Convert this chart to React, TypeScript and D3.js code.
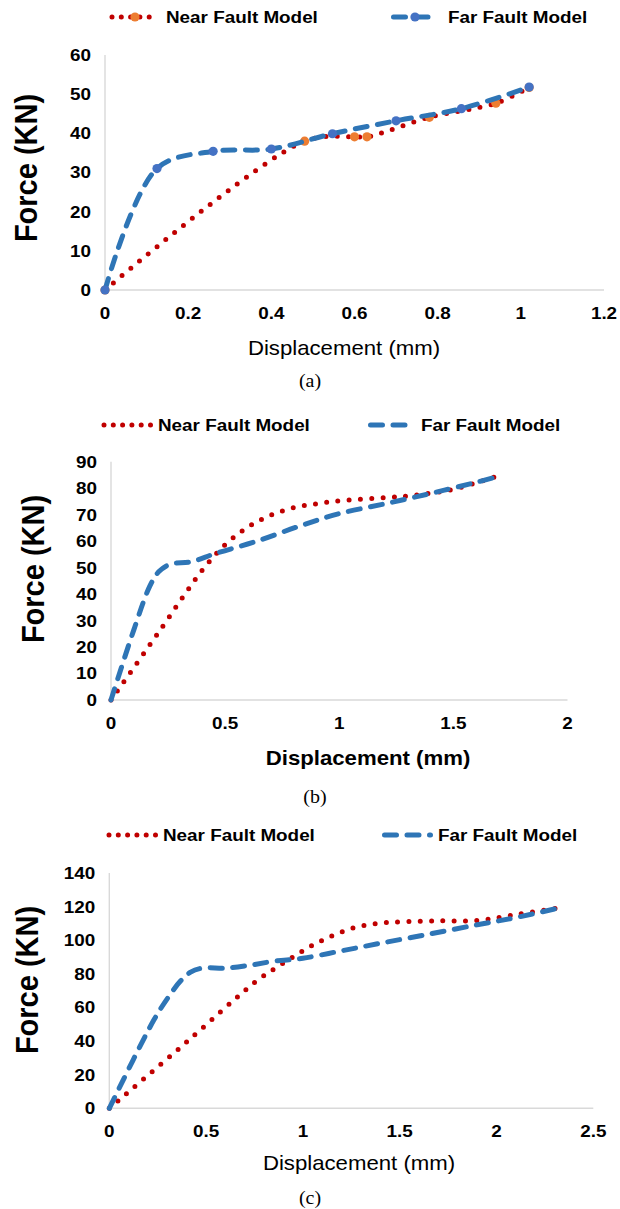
import React from "react";
import * as d3 from "d3";

type Pt = [number, number];

// Load–displacement curves (displacement in mm, force in kN)
const seriesNames = ["Near Fault Model", "Far Fault Model"];

const nearA: Pt[] = [
  [0, 0], [0.48, 38], [0.6, 39.1], [0.63, 39.1], [0.78, 44.1], [0.94, 47.7], [1.02, 51.7],
];
const farA: Pt[] = [
  [0, 0], [0.125, 31], [0.26, 35.4], [0.4, 36], [0.547, 39.9], [0.7, 43.2], [0.857, 46.3], [1.02, 51.8],
];

const nearB: Pt[] = [
  [0, 0], [0.2, 24.5], [0.4, 49], [0.5, 58.6], [0.6, 65.3], [0.7, 69.8], [0.8, 72.6], [0.9, 74.1],
  [1.0, 75.2], [1.2, 76.4], [1.3, 77], [1.4, 78.1], [1.5, 79.6], [1.6, 82], [1.69, 84.5],
];
const farB: Pt[] = [
  [0, 0], [0.1, 26.5], [0.17, 43], [0.21, 48.5], [0.26, 51.3], [0.35, 52.2], [0.46, 55.4], [0.64, 60],
  [0.83, 65.8], [1.0, 70.4], [1.2, 74.1], [1.4, 78], [1.59, 82], [1.69, 84.3],
];

const nearC: Pt[] = [
  [0, 0], [0.4, 39.5], [0.75, 74.8], [0.85, 82.8], [0.95, 90.1], [1.05, 97], [1.15, 102.6], [1.26, 107.3],
  [1.38, 109.9], [1.5, 110.9], [1.7, 111.5], [1.9, 111.7], [2.03, 113.9], [2.15, 116.2], [2.33, 119.4],
];
const farC: Pt[] = [
  [0, 0], [0.23, 52.5], [0.31, 67], [0.37, 76], [0.42, 81], [0.48, 83.4], [0.6, 83.4], [0.72, 85],
  [0.85, 87.5], [1.0, 89.3], [1.2, 93.7], [1.4, 98.2], [1.65, 103.6], [1.9, 109.2], [2.1, 113.5], [2.33, 119.4],
];

const xTicksA = [0, 0.2, 0.4, 0.6, 0.8, 1, 1.2];
const yTicksA = [0, 10, 20, 30, 40, 50, 60];
const xTicksB = [0, 0.5, 1, 1.5, 2];
const yTicksB = [0, 10, 20, 30, 40, 50, 60, 70, 80, 90];
const xTicksC = [0, 0.5, 1, 1.5, 2, 2.5];
const yTicksC = [0, 20, 40, 60, 80, 100, 120, 140];

const xTitle = "Displacement (mm)";
const yTitle = "Force (KN)";
const captions = ["(a)", "(b)", "(c)"];

const RED = "#C00000";
const BLUE = "#2E75B6";
const BLUE_MK = "#4472C4";
const ORANGE = "#ED7D31";
const AXIS = "#D9D9D9";
const SANS = "'Liberation Sans', Arial, sans-serif";
const SERIF = "'Liberation Serif', 'Times New Roman', serif";
const SX = 1.11;

const DOTS = { stroke: RED, strokeWidth: 5, strokeDasharray: "0 11.3", strokeLinecap: "round" as const };
const DASH = { stroke: BLUE, strokeWidth: 5, strokeDasharray: "12 10.5", strokeLinecap: "round" as const };

type TProps = {
  x: number; y: number; size: number; weight?: string | number; family?: string;
  anchor?: "start" | "middle" | "end"; rotate?: boolean; children: React.ReactNode;
};

function T({ x, y, size, weight = "bold", family = SANS, anchor = "middle", rotate, children }: TProps) {
  const transform = rotate
    ? `translate(${x},${y}) rotate(-90) scale(1,${SX})`
    : `translate(${x},${y}) scale(${SX},1)`;
  return (
    <text transform={transform} fontSize={size} fontWeight={weight} fontFamily={family}
      textAnchor={anchor} dy="0.35em" fill="#000">
      {children}
    </text>
  );
}

type PanelProps = {
  near: Pt[]; far: Pt[]; xTicks: number[]; yTicks: number[];
  x0: number; x1: number; y0: number; y1: number;
  legendY: number; nearLine: [number, number]; nearText: number; farLine: [number, number]; farText: number;
  markers: boolean; titleBold: boolean; titleX: number; titleY: number;
  yTitleX: number; yTitleY: number; caption: string; capX: number; capY: number;
};

function Panel(p: PanelProps) {
  const xs = d3.scaleLinear().domain(d3.extent(p.xTicks) as [number, number]).range([p.x0, p.x1]);
  const ys = d3.scaleLinear().domain(d3.extent(p.yTicks) as [number, number]).range([p.y0, p.y1]);
  const line = d3.line<Pt>().x((d) => xs(d[0])).y((d) => ys(d[1])).curve(d3.curveCatmullRom.alpha(0.5));
  const ly = p.legendY;
  const lmid = (a: [number, number]) => (a[0] + a[1]) / 2;
  return (
    <g>
      {/* legend */}
      <path d={`M${p.nearLine[0]},${ly}H${p.nearLine[1]}`} fill="none" {...DOTS}
        strokeDasharray="0 9.3" />
      {p.markers && <circle cx={lmid(p.nearLine)} cy={ly} r={4.6} fill={ORANGE} />}
      <T x={p.nearText} y={ly} size={17} anchor="start">{seriesNames[0]}</T>
      <path d={`M${p.farLine[0] + 2.5},${ly}H${p.farLine[1] - 2.5}`} fill="none" {...DASH} />
      {p.markers && <circle cx={lmid(p.farLine)} cy={ly} r={4.6} fill={BLUE_MK} />}
      <T x={p.farText} y={ly} size={17} anchor="start">{seriesNames[1]}</T>

      {/* axes */}
      <line x1={p.x0} x2={p.x0} y1={p.y0} y2={p.y1} stroke={AXIS} strokeWidth={1.4} />
      <line x1={p.x0} x2={p.x1} y1={p.y0} y2={p.y0} stroke={AXIS} strokeWidth={1.4} />
      {p.yTicks.map((t) => (
        <T key={"y" + t} x={p.x0 - 14} y={ys(t)} size={17} anchor="end">{String(t)}</T>
      ))}
      {p.xTicks.map((t) => (
        <T key={"x" + t} x={xs(t)} y={p.y0 + 23} size={17}>{String(t)}</T>
      ))}

      {/* series */}
      <path d={line(p.near) ?? ""} fill="none" {...DOTS} />
      {p.markers && p.near.map((d, i) => (
        <circle key={"n" + i} cx={xs(d[0])} cy={ys(d[1])} r={4.6} fill={ORANGE} />
      ))}
      <path d={line(p.far) ?? ""} fill="none" {...DASH} />
      {p.markers && p.far.map((d, i) => (
        <circle key={"f" + i} cx={xs(d[0])} cy={ys(d[1])} r={4.6} fill={BLUE_MK} />
      ))}

      {/* titles */}
      <T x={p.titleX} y={p.titleY} size={20} weight={p.titleBold ? "bold" : "normal"}>{xTitle}</T>
      <T x={p.yTitleX} y={p.yTitleY} size={29} rotate>{yTitle}</T>
      <T x={p.capX} y={p.capY} size={18} weight="normal" family={SERIF}>{p.caption}</T>
    </g>
  );
}

export default function App() {
  return (
    <svg width={620} height={1209} viewBox="0 0 620 1209"
      style={{ position: "absolute", left: 0, top: 0, background: "#fff" }}>
      <rect width={620} height={1209} fill="#fff" />
      <Panel near={nearA} far={farA} xTicks={xTicksA} yTicks={yTicksA}
        x0={105} x1={604} y0={290} y1={55}
        legendY={17} nearLine={[112, 158]} nearText={166} farLine={[391, 439]} farText={448}
        markers titleBold={false} titleX={344} titleY={348} yTitleX={26} yTitleY={168}
        caption={captions[0]} capX={310} capY={381} />
      <Panel near={nearB} far={farB} xTicks={xTicksB} yTicks={yTicksB}
        x0={111} x1={567.5} y0={700} y1={461.7}
        legendY={425} nearLine={[104, 151]} nearText={158} farLine={[368, 418]} farText={421}
        markers={false} titleBold titleX={368} titleY={758} yTitleX={33} yTitleY={569}
        caption={captions[1]} capX={315} capY={797} />
      <Panel near={nearC} far={farC} xTicks={xTicksC} yTicks={yTicksC}
        x0={109.3} x1={593.3} y0={1108.3} y1={873}
        legendY={835} nearLine={[109, 157]} nearText={163} farLine={[382, 433]} farText={438}
        markers={false} titleBold={false} titleX={359} titleY={1163} yTitleX={27} yTitleY={980}
        caption={captions[2]} capX={310} capY={1198} />
    </svg>
  );
}
